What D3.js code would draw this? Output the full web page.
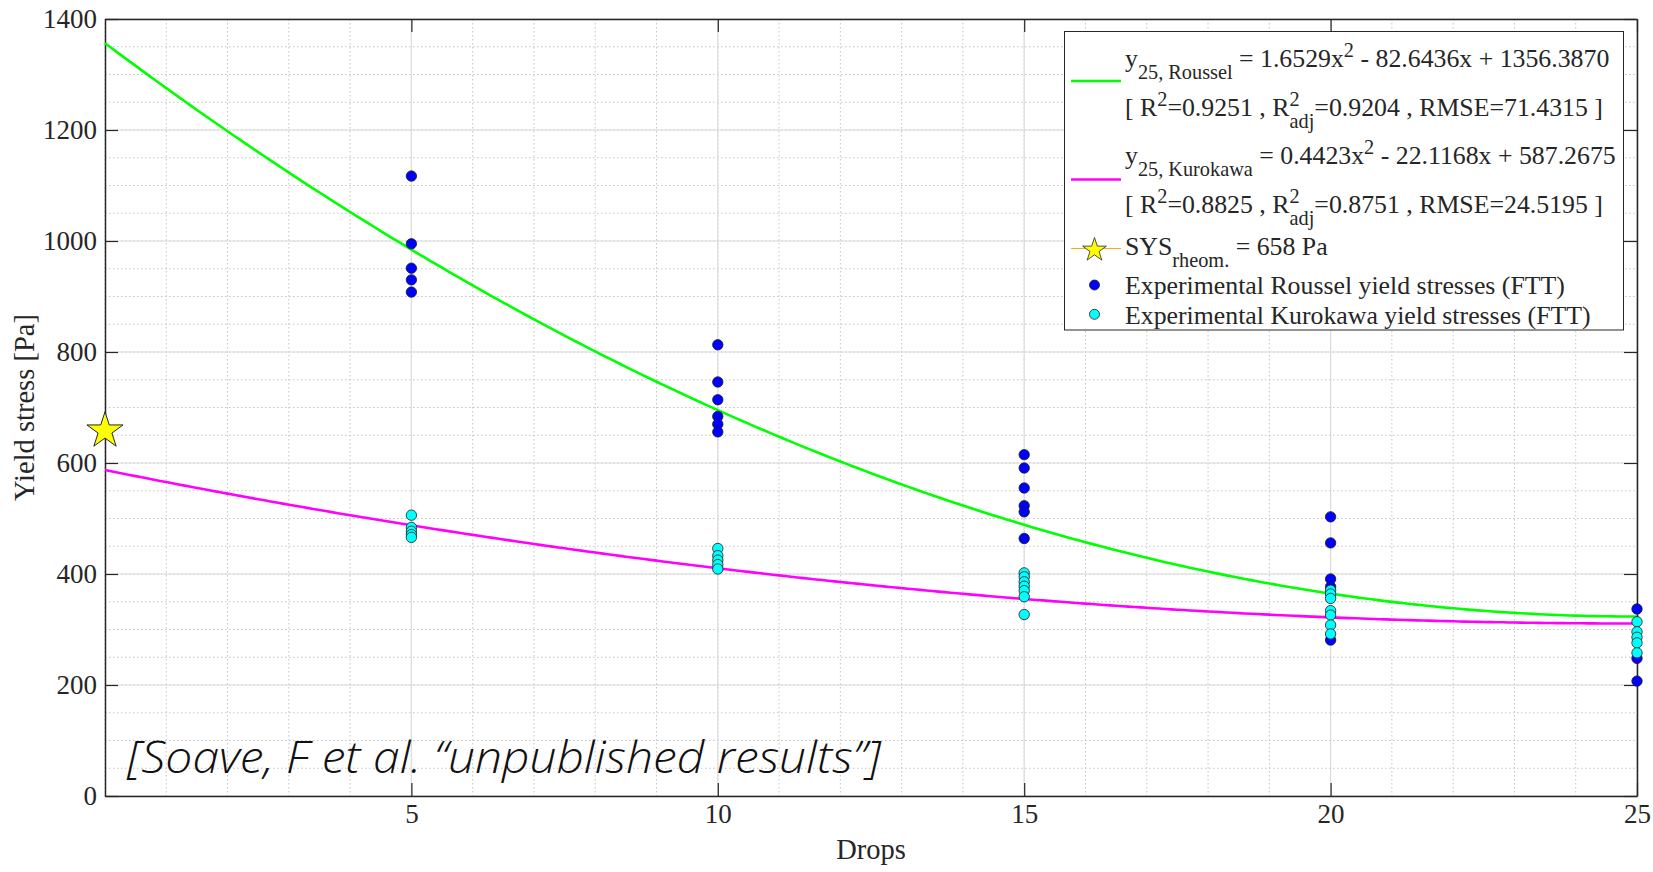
<!DOCTYPE html>
<html><head><meta charset="utf-8">
<script src="https://cdn.jsdelivr.net/npm/d3@7"></script>
<style>body{margin:0;background:#fff}svg{display:block}</style>
</head><body><svg id="c" width="1653" height="872"></svg>
<script>
// ---- data ----
const xTicks = [5, 10, 15, 20, 25];
const yTicks = [0, 200, 400, 600, 800, 1000, 1200, 1400];
const xDomain = [0, 25];
const yDomain = [0, 1400];

// fitted quadratic coefficients (from legend): a*x^2 + b*x + c
const rousselCoef = [1.6529, -82.6436, 1356.3870];
const kurokawaCoef = [0.4423, -22.1168, 587.2675];

// experimental points
const rousselDrops  = [5,5,5,5,5, 10,10,10,10,10,10, 15,15,15,15,15,15, 20,20,20,20,20, 25,25,25];
const rousselStress = [1117,995,951,930,908, 813,746,714,684,670,656, 615,591,555,523,512,464, 503,456,391,377,281, 337,248,207];
const kurokawaDrops  = [5,5,5,5,5, 10,10,10,10,10, 15,15,15,15,15,15,15, 20,20,20,20,20,20,20, 25,25,25,25,25];
const kurokawaStress = [506,484,477,471,466, 446,433,425,417,409, 402,395,386,378,370,359,327, 371,364,356,334,326,308,292, 314,296,286,276,258];

// rheometer static yield stress
const sysDrops = [0];
const sysStress = [658];

// ---- layout ----
const SERIF = '"Liberation Serif","Times New Roman",serif';
const L = 105, R = 1637, T = 19, B = 796;
const svg = d3.select("#c");
const x = d3.scaleLinear().domain(xDomain).range([L, R]);
const y = d3.scaleLinear().domain(yDomain).range([B, T]);

// minor grid
const g = svg.append("g");
g.selectAll(".mx").data(x.ticks(25)).join("line")
  .attr("x1", d => x(d)).attr("x2", d => x(d)).attr("y1", T).attr("y2", B)
  .attr("stroke", "#c4c4c4").attr("stroke-width", 1).attr("stroke-dasharray", "1.5,2.5");
g.selectAll(".my").data(y.ticks(28)).join("line")
  .attr("y1", d => y(d)).attr("y2", d => y(d)).attr("x1", L).attr("x2", R)
  .attr("stroke", "#c4c4c4").attr("stroke-width", 1).attr("stroke-dasharray", "1.5,2.5");
// major grid
g.selectAll(".gx").data(xTicks).join("line")
  .attr("x1", d => x(d)).attr("x2", d => x(d)).attr("y1", T).attr("y2", B)
  .attr("stroke", "#dcdcdc").attr("stroke-width", 1.2);
g.selectAll(".gy").data(yTicks).join("line")
  .attr("y1", d => y(d)).attr("y2", d => y(d)).attr("x1", L).attr("x2", R)
  .attr("stroke", "#dcdcdc").attr("stroke-width", 1.2);

// axes
function styleAxis(sel) {
  sel.selectAll("path").attr("stroke", "#262626").attr("stroke-width", 1.5);
  sel.selectAll("line").attr("stroke", "#262626").attr("stroke-width", 1.2);
  sel.selectAll("text").style("font-family", SERIF).style("font-size", "27px").attr("fill", "#262626");
}
const fmt = d3.format("d");
svg.append("g").attr("transform", `translate(${L},0)`)
  .call(d3.axisLeft(y).tickValues(yTicks).tickFormat(fmt).tickSize(-13).tickSizeOuter(0).tickPadding(8))
  .call(styleAxis);
svg.append("g").attr("transform", `translate(0,${B})`)
  .call(d3.axisBottom(x).tickValues(xTicks).tickFormat(fmt).tickSize(-13).tickSizeOuter(0).tickPadding(8))
  .call(styleAxis);
svg.append("g").attr("transform", `translate(${R},0)`)
  .call(d3.axisRight(y).tickValues(yTicks).tickSize(-13).tickSizeOuter(0).tickFormat(""))
  .call(styleAxis);
svg.append("g").attr("transform", `translate(0,${T})`)
  .call(d3.axisTop(x).tickValues(xTicks).tickSize(-13).tickSizeOuter(0).tickFormat(""))
  .call(styleAxis);

// axis titles
svg.append("text").attr("x", (L + R) / 2).attr("y", 859).attr("text-anchor", "middle")
  .style("font-family", SERIF).style("font-size", "28.5px").attr("fill", "#262626").text("Drops");
svg.append("text").attr("transform", `translate(34,${(T + B) / 2}) rotate(-90)`)
  .attr("text-anchor", "middle").style("font-family", SERIF).style("font-size", "28.5px")
  .attr("fill", "#262626").text("Yield stress [Pa]");

// fitted curves
const quad = c => v => c[0] * v * v + c[1] * v + c[2];
const xs = x.ticks(250);
const line = f => d3.line().x(d => x(d)).y(d => y(f(d)));
svg.append("path").attr("d", line(quad(rousselCoef))(xs))
  .attr("fill", "none").attr("stroke", "#00ff00").attr("stroke-width", 2.6);
svg.append("path").attr("d", line(quad(kurokawaCoef))(xs))
  .attr("fill", "none").attr("stroke", "#ff00ff").attr("stroke-width", 2.6);

// points
svg.append("g").selectAll("circle").data(d3.zip(rousselDrops, rousselStress)).join("circle")
  .attr("cx", d => x(d[0])).attr("cy", d => y(d[1])).attr("r", 5.2)
  .attr("fill", "#0000ff").attr("stroke", "#1a1a1a").attr("stroke-width", 0.8);
svg.append("g").selectAll("circle").data(d3.zip(kurokawaDrops, kurokawaStress)).join("circle")
  .attr("cx", d => x(d[0])).attr("cy", d => y(d[1])).attr("r", 5.2)
  .attr("fill", "#00ffff").attr("stroke", "#1a1a1a").attr("stroke-width", 0.8);

// star
const ka = 0.8908130915292852;
const star = Rr => d3.symbol(d3.symbolStar).size(Rr * Rr / ka)();
svg.append("g").selectAll("path").data(d3.zip(sysDrops, sysStress)).join("path")
  .attr("d", star(19)).attr("transform", d => `translate(${x(d[0])},${y(d[1])})`)
  .attr("fill", "#ffff00").attr("stroke", "#262626").attr("stroke-width", 1);

// annotation
svg.append("text").attr("x", 127).attr("y", 773)
  .style("font-family", '"Open Sans", Lato, "DejaVu Sans", sans-serif').style("font-style", "italic")
  .style("font-weight", "300").style("font-size", "44px").attr("fill", "#111")
  .attr("textLength", 754).attr("lengthAdjust", "spacingAndGlyphs")
  .text("[Soave, F et al. \u201cunpublished results\u201d]");

// legend
const lg = svg.append("g");
lg.append("rect").attr("x", 1064.5).attr("y", 31.5).attr("width", 559).attr("height", 298.5)
  .attr("fill", "#fff").attr("stroke", "#262626").attr("stroke-width", 1);
const TX = 1125, FS = 25.8, SS = 20.3;
function rich(yb, parts) {
  const t = lg.append("text").attr("x", TX).attr("y", yb)
    .style("font-family", SERIF).style("font-size", FS + "px").attr("fill", "#262626");
  let cur = 0;
  parts.forEach(p => {
    const [txt, mode, dx] = p;
    const target = mode === "sub" ? 12.5 : mode === "sup" ? -10 : 0;
    const ts = t.append("tspan").text(txt).attr("dy", target - cur);
    if (dx) ts.attr("dx", dx);
    if (mode) ts.style("font-size", SS + "px");
    cur = target;
  });
  return t;
}
rich(66.5, [["y"], ["25, Roussel", "sub"], [" = 1.6529x"], ["2", "sup"], [" - 82.6436x + 1356.3870"]]);
rich(115.5, [["[ R"], ["2", "sup"], ["=0.9251 , R"], ["2", "sup"], ["adj", "sub", -10], ["=0.9204 , RMSE=71.4315 ]"]]);
rich(163.5, [["y"], ["25, Kurokawa", "sub"], [" = 0.4423x"], ["2", "sup"], [" - 22.1168x + 587.2675"]]);
rich(212.5, [["[ R"], ["2", "sup"], ["=0.8825 , R"], ["2", "sup"], ["adj", "sub", -10], ["=0.8751 , RMSE=24.5195 ]"]]);
rich(254.5, [["SYS"], ["rheom.", "sub"], [" = 658 Pa"]]);
rich(294, [["Experimental Roussel yield stresses (FTT)"]]);
rich(323.5, [["Experimental Kurokawa yield stresses (FTT)"]]);

lg.append("line").attr("x1", 1071).attr("x2", 1121).attr("y1", 81).attr("y2", 81)
  .attr("stroke", "#00ff00").attr("stroke-width", 2.6);
lg.append("line").attr("x1", 1071).attr("x2", 1121).attr("y1", 179.5).attr("y2", 179.5)
  .attr("stroke", "#ff00ff").attr("stroke-width", 2.6);
lg.append("line").attr("x1", 1071).attr("x2", 1121).attr("y1", 248.5).attr("y2", 248.5)
  .attr("stroke", "#edb120").attr("stroke-width", 1.2);
lg.append("path").attr("d", star(12.5)).attr("transform", "translate(1094.5,250)")
  .attr("fill", "#ffff00").attr("stroke", "#262626").attr("stroke-width", 0.8);
lg.append("circle").attr("cx", 1094.5).attr("cy", 285).attr("r", 5)
  .attr("fill", "#0000ff").attr("stroke", "#1a1a1a").attr("stroke-width", 0.8);
lg.append("circle").attr("cx", 1094.5).attr("cy", 314.3).attr("r", 5)
  .attr("fill", "#00ffff").attr("stroke", "#1a1a1a").attr("stroke-width", 0.8);
</script></body></html>
